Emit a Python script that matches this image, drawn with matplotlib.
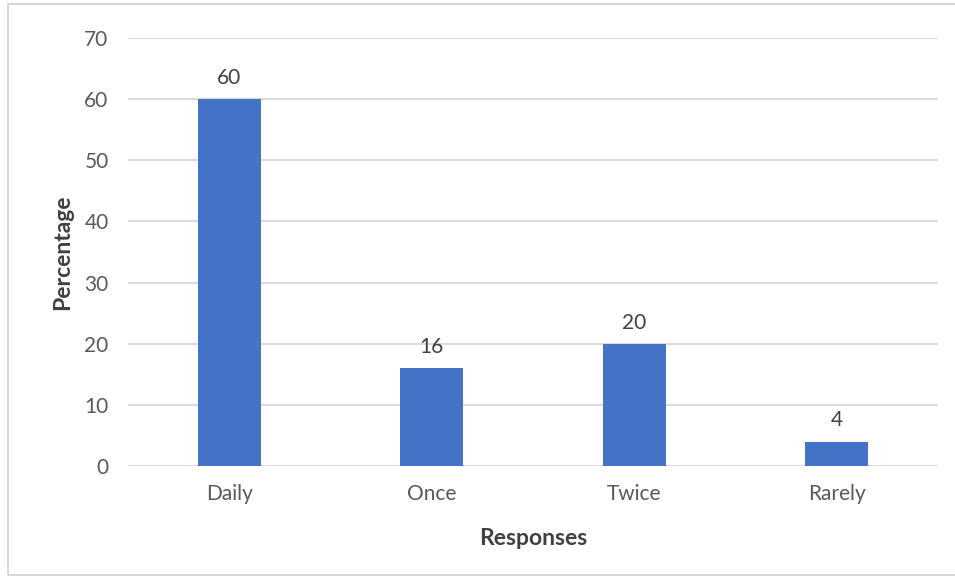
import matplotlib
matplotlib.use("Agg")
import matplotlib.pyplot as plt
from matplotlib.patches import Rectangle

categories = ["Daily", "Once", "Twice", "Rarely"]
percentages = [60, 16, 20, 4]
y_ticks = [0, 10, 20, 30, 40, 50, 60, 70]

plt.rcParams["font.family"] = ["Lato", "DejaVu Sans"]

fig = plt.figure(figsize=(9.55, 5.79), dpi=100)
ax = fig.add_axes([128 / 955, 1 - 466 / 579, 810 / 955, 428 / 579])

x = range(len(categories))
bars = ax.bar(x, percentages, width=0.31, color="#4472C4", zorder=3)

for xi, v in zip(x, percentages):
    ax.annotate(str(v), (xi, v), xytext=(0, 8), textcoords="offset points",
                ha="center", va="bottom", fontsize=15, color="#404040")

ax.set_xlim(-0.5, len(categories) - 0.5)
ax.set_ylim(0, 70)
ax.set_yticks(y_ticks)
ax.set_xticks(list(x))
ax.set_xticklabels(categories)
ax.yaxis.grid(True, color="#d9d9d9", linewidth=1.4, zorder=0)
ax.set_axisbelow(True)
for s in ax.spines.values():
    s.set_visible(False)
ax.tick_params(axis="both", length=0, labelsize=15, labelcolor="#595959")
ax.tick_params(axis="y", pad=14)
ax.tick_params(axis="x", pad=13)

ax.set_ylabel("Percentage", fontsize=16.5, fontweight="bold", color="#404040", labelpad=8)
ax.set_xlabel("Responses", fontsize=16.5, fontweight="bold", color="#404040", labelpad=17)

# light frame around the chart area
fig.patches.append(Rectangle((8 / 955, 4 / 579), 1.0, 571 / 579,
                             transform=fig.transFigure, fill=False,
                             edgecolor="#d0d0d0", linewidth=1.2))

fig.savefig("out.png", dpi=100, facecolor="white")
